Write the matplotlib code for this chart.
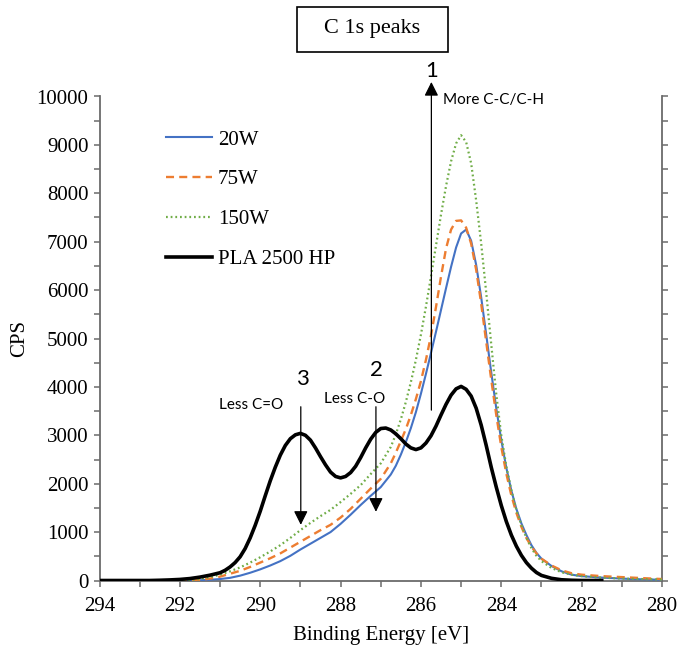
import numpy as np
import matplotlib
matplotlib.use("Agg")
import matplotlib.pyplot as plt
from matplotlib.patches import Rectangle
from matplotlib.ticker import MultipleLocator

plt.rcParams["font.family"] = ["Liberation Serif", "DejaVu Serif"]

energy = [294.0, 293.75, 293.5, 293.25, 293.0, 292.75, 292.5, 292.25, 292.0, 291.75,
          291.5, 291.25, 291.0, 290.75, 290.5, 290.25, 290.0, 289.75, 289.5, 289.25,
          289.0, 288.75, 288.5, 288.25, 288.0, 287.75, 287.5, 287.25, 287.0,
          286.75, 286.625, 286.5, 286.375, 286.25, 286.125, 286.0, 285.875, 285.75, 285.625,
          285.5, 285.375, 285.25, 285.125, 285.0, 284.875, 284.75, 284.625, 284.5, 284.375,
          284.25, 284.125, 284.0, 283.875, 283.75, 283.625, 283.5, 283.375, 283.25, 283.125,
          283.0, 282.75, 282.5, 282.25, 282.0, 281.75, 281.5, 281.25, 281.0, 280.75,
          280.5, 280.25, 280.0]

cps_20w = [0, 0, 0, 0, 0, 0, 0, 0, 0, 0,
           5, 15, 30, 55, 100, 160, 230, 310, 400, 510,
           640, 760, 880, 1000, 1170, 1360, 1560, 1750, 1930,
           2190, 2370, 2600, 2860, 3150, 3480, 3860, 4270, 4700, 5140,
           5590, 6040, 6480, 6880, 7170, 7250, 7020, 6520, 5850, 5080,
           4300, 3560, 2900, 2330, 1860, 1480, 1180, 940, 730, 570,
           450, 300, 190, 120, 90, 75, 60, 50, 40, 30,
           25, 20, 15]

cps_75w = [0, 0, 0, 0, 0, 0, 0, 0, 0, 0,
           10, 40, 80, 140, 200, 280, 370, 460, 560, 680,
           800, 920, 1040, 1150, 1300, 1480, 1690, 1900, 2100,
           2420, 2640, 2880, 3130, 3420, 3750, 4120, 4560, 5060, 5650,
           6280, 6860, 7250, 7430, 7440, 7290, 6960, 6420, 5720, 4930,
           4150, 3420, 2760, 2210, 1760, 1400, 1110, 880, 700, 560,
           450, 310, 210, 150, 120, 105, 90, 80, 70, 60,
           50, 40, 30]

cps_150w = [0, 0, 0, 0, 0, 0, 0, 0, 0, 10,
            30, 70, 120, 190, 270, 370, 480, 600, 730, 880,
            1040, 1190, 1330, 1460, 1620, 1790, 1970, 2200, 2420,
            2760, 3020, 3330, 3690, 4100, 4560, 5080, 5660, 6280, 6920,
            7560, 8150, 8660, 9030, 9200, 9060, 8620, 7850, 6960, 5950,
            4880, 3850, 3000, 2360, 1870, 1460, 1150, 880, 670, 510,
            400, 260, 170, 120, 90, 75, 60, 50, 40, 35,
            30, 25, 20]

energy_pla = [294.0, 293.5, 293.0, 292.75, 292.5, 292.25, 292.0, 291.75, 291.5, 291.25,
              291.0, 290.875, 290.75, 290.625, 290.5, 290.375, 290.25, 290.125, 290.0, 289.875,
              289.75, 289.625, 289.5, 289.375, 289.25, 289.125, 289.0, 288.875, 288.75, 288.625,
              288.5, 288.375, 288.25, 288.125, 288.0, 287.875, 287.75, 287.625, 287.5, 287.375,
              287.25, 287.125, 287.0, 286.875, 286.75, 286.625, 286.5, 286.375, 286.25, 286.125,
              286.0, 285.875, 285.75, 285.625, 285.5, 285.375, 285.25, 285.125, 285.0, 284.875,
              284.75, 284.625, 284.5, 284.375, 284.25, 284.125, 284.0, 283.875, 283.75, 283.625,
              283.5, 283.375, 283.25, 283.125, 283.0, 282.75, 282.5, 282.25, 282.0, 281.5]

cps_pla = [0, 0, 0, 0, 5, 12, 22, 40, 70, 110,
           160, 210, 280, 370, 490, 660, 880, 1140, 1430, 1750,
           2060, 2340, 2590, 2790, 2930, 3010, 3040, 3000, 2900, 2740,
           2560, 2390, 2240, 2150, 2120, 2150, 2230, 2360, 2540, 2740,
           2920, 3060, 3140, 3150, 3110, 3030, 2930, 2820, 2740, 2705,
           2740, 2840, 2990, 3190, 3420, 3640, 3830, 3960, 4010, 3950,
           3810, 3560, 3210, 2790, 2340, 1930, 1550, 1220, 940, 710,
           520, 370, 255, 165, 105, 45, 15, 5, 0, 0]

series_labels = ["20W", "75W", "150W", "PLA 2500 HP"]
x_ticks = [294, 292, 290, 288, 286, 284, 282, 280]
y_ticks = [0, 1000, 2000, 3000, 4000, 5000, 6000, 7000, 8000, 9000, 10000]

arrow_energy = [285.74, 287.12, 288.99]
arrow_tail = [3520, 3590, 3590]
arrow_tip = [10300, 1420, 1150]
arrow_nums = ["1", "2", "3"]
arrow_texts = ["More C-C/C-H", "Less C-O", "Less C=O"]

W, H = 681, 652
fig = plt.figure(figsize=(W / 100, H / 100), dpi=100)
ax = fig.add_axes([99.5 / W, 1 - 580.5 / H, (662 - 99.5) / W, (580.5 - 96.5) / H])

serif = "Liberation Serif"
sans = "Lato"

ax.plot(energy, cps_20w, color="#4472C4", lw=1.5, label=series_labels[0], zorder=3)
ax.plot(energy, cps_75w, color="#ED7D31", lw=1.7, ls=(0, (3.4, 2.2)), label=series_labels[1], zorder=4)
ax.plot(energy, cps_150w, color="#70AD47", lw=1.6, ls=(0, (0.8, 1.3)), label=series_labels[2], zorder=5)
ax.plot(energy_pla, cps_pla, color="black", lw=2.6, label=series_labels[3], zorder=6,
        solid_joinstyle="round")

ax.set_xlim(294, 280)
ax.set_ylim(0, 10000)
ax.set_xticks(x_ticks)
ax.xaxis.set_minor_locator(MultipleLocator(1))
ax.set_yticks(y_ticks)
ax.yaxis.set_minor_locator(MultipleLocator(500))

spine_col = "#6b6b6b"
for s in ["left", "bottom", "right"]:
    ax.spines[s].set_color(spine_col)
    ax.spines[s].set_linewidth(1.3)
ax.spines["top"].set_visible(False)

ax.tick_params(axis="both", which="both", direction="out", color=spine_col, width=1.1, length=4)
ax.tick_params(axis="y", which="both", right=True, labelright=False)
ax.tick_params(axis="x", which="major", labelsize=15, pad=8)
ax.tick_params(axis="y", which="major", labelsize=15, pad=4)
for lab in ax.get_xticklabels() + ax.get_yticklabels():
    lab.set_fontfamily(serif)

ax.set_xlabel("Binding Energy [eV]", fontsize=15, labelpad=7)
ax.set_ylabel("CPS", fontsize=15, labelpad=5)

leg = ax.legend(loc="upper left", bbox_to_anchor=(166 / W, 1 - 130 / H),
                bbox_transform=fig.transFigure, frameon=False,
                prop={"family": serif, "size": 15}, handlelength=2.2,
                handletextpad=0.3, labelspacing=0.97, borderpad=0, borderaxespad=0)

for e, t0, t1 in zip(arrow_energy, arrow_tail, arrow_tip):
    ax.annotate("", xy=(e, t1), xytext=(e, t0),
                arrowprops=dict(arrowstyle="-|>", mutation_scale=21, lw=0.9,
                                color="black", shrinkA=0, shrinkB=0),
                annotation_clip=False, zorder=7)


def fig_xy(px, py):
    return px / W, 1 - py / H


num_pos = [(432, 71), (376, 370), (302, 379)]
txt_pos = [(443, 100), (355, 399), (251, 405)]
txt_ha = ["left", "center", "center"]
for n, (px, py) in zip(arrow_nums, num_pos):
    fig.text(*fig_xy(px, py), n, fontsize=16, fontfamily=sans, ha="center", va="center")
for t, (px, py), ha in zip(arrow_texts, txt_pos, txt_ha):
    fig.text(*fig_xy(px, py), t, fontsize=11, fontfamily=sans, ha=ha, va="center")

fig.patches.append(Rectangle(fig_xy(297, 52), 151 / W, 45 / H, transform=fig.transFigure,
                             fill=False, edgecolor="black", lw=1.2))
fig.text(*fig_xy(372.5, 29), "C 1s peaks", fontsize=16, ha="center", va="center")

fig.savefig("out.png", dpi=100)
